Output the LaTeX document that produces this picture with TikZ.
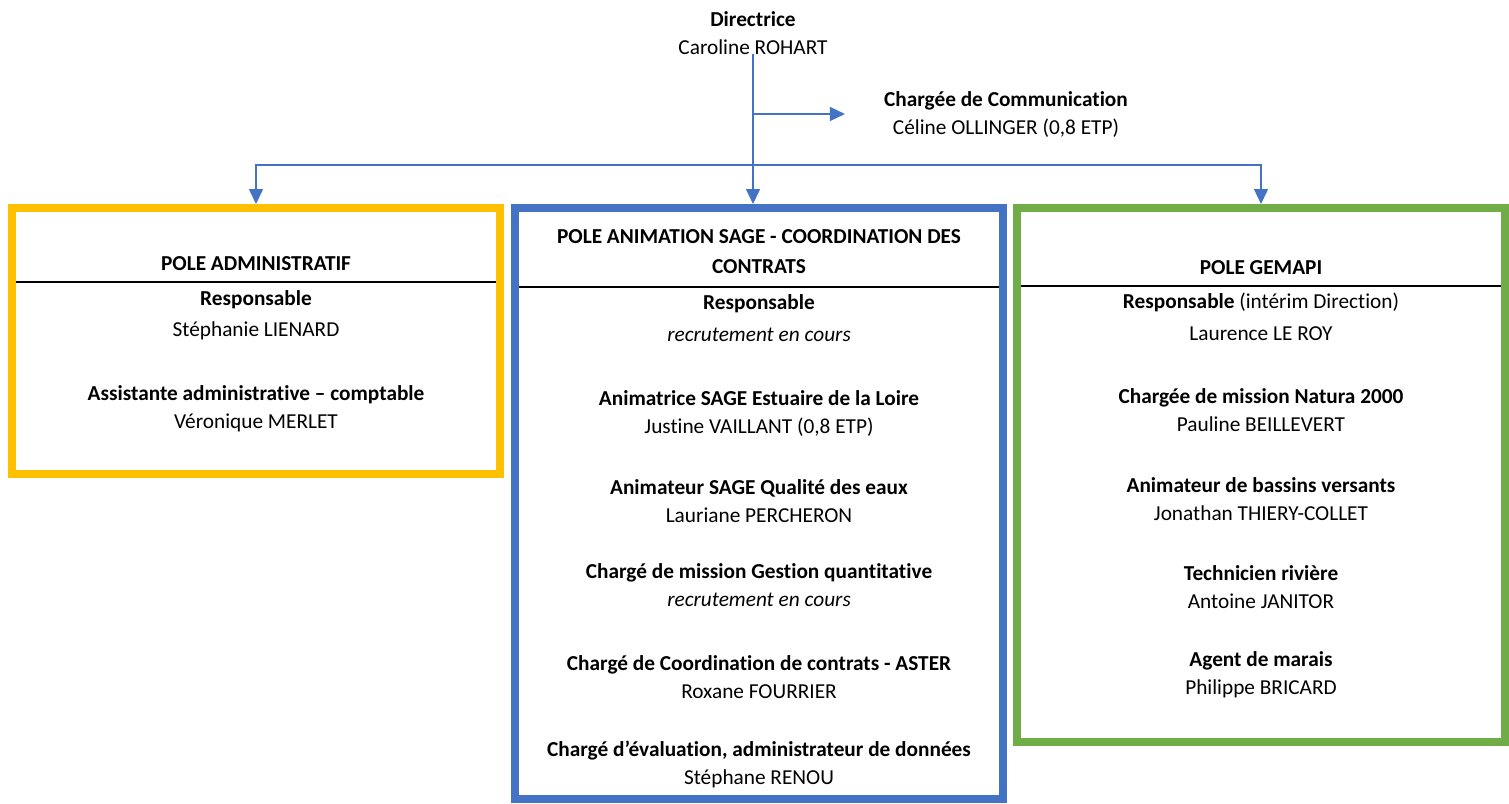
\documentclass[tikz,border=0pt]{standalone}
\usepackage{fontspec}
\setmainfont[RawFeature={-liga;-clig;-calt}]{Carlito}
\usepackage{xcolor}
\usepackage{tikz}
\usetikzlibrary{arrows.meta, positioning}
\definecolor{poleorange}{HTML}{FFC000}
\definecolor{poleblue}{HTML}{4472C4}
\definecolor{polegreen}{HTML}{70AD47}
\tikzstyle{pole} = [draw, line width=8pt, minimum width=488pt, anchor=center, fill=white]
\tikzstyle{arrow} = [poleblue, line width=1.5pt, -{Triangle[width=14pt,length=15pt]}]

\begin{document}
\begin{tikzpicture}[
    x=1pt, y=-1pt,
    every node/.style={font=\fontsize{21.3}{28}\selectfont, align=center, inner sep=0pt, anchor=base},
    rule/.style={black, line width=1.2pt}
]
\useasboundingbox (0,0) rectangle (1509,803);

% Poles
\node[pole, draw=poleorange, minimum height=266pt] (admin) at (256,341) {};
\node[pole, draw=poleblue, minimum height=591pt] (sage) at (759,503.5) {};
\node[pole, draw=polegreen, minimum height=534pt] (gemapi) at (1261,475) {};

\draw[rule] ([xshift=8pt]admin.west |- 0,282) -- ([xshift=-8pt]admin.east |- 0,282);
\draw[rule] ([xshift=8pt]sage.west |- 0,287) -- ([xshift=-8pt]sage.east |- 0,287);
\draw[rule] ([xshift=8pt]gemapi.west |- 0,286) -- ([xshift=-8pt]gemapi.east |- 0,286);

% Direction (base = last line)
\node (dir) at (753,54) {\textbf{Directrice}\\Caroline ROHART};
\node (comm) at (1006,134) {\textbf{Chargée de Communication}\\Céline OLLINGER (0,8 ETP)};

% Pole administratif
\node (admintitle) at (256,270) {\textbf{POLE ADMINISTRATIF}};
\node (adminresp) at (256,336) {\textbf{Responsable}\\[3pt]Stéphanie LIENARD};
\node (adminassist) at (256,428) {\textbf{Assistante administrative – comptable}\\Véronique MERLET};

% Pole animation SAGE
\node (sagetitle) at (759,273) {\textbf{POLE ANIMATION SAGE - COORDINATION DES}\\[2pt]\textbf{CONTRATS}};
\node (sageresp) at (759,341) {\textbf{Responsable}\\[4pt]\textit{recrutement en cours}};
\node (sageanim) at (759,433) {\textbf{Animatrice SAGE Estuaire de la Loire}\\Justine VAILLANT (0,8 ETP)};
\node (sagequal) at (759,522) {\textbf{Animateur SAGE Qualité des eaux}\\Lauriane PERCHERON};
\node (sagequant) at (759,606) {\textbf{Chargé de mission Gestion quantitative}\\\textit{recrutement en cours}};
\node (sageaster) at (759,698) {\textbf{Chargé de Coordination de contrats - ASTER}\\Roxane FOURRIER};
\node (sageeval) at (759,784) {\textbf{Chargé d’évaluation, administrateur de données}\\Stéphane RENOU};

% Pole GEMAPI
\node (gemapititle) at (1261,274) {\textbf{POLE GEMAPI}};
\node (gemapiresp) at (1261,340) {\textbf{Responsable} (intérim Direction)\\[4pt]Laurence LE ROY};
\node (gemapinatura) at (1261,431) {\textbf{Chargée de mission Natura 2000}\\Pauline BEILLEVERT};
\node (gemapibv) at (1261,520) {\textbf{Animateur de bassins versants}\\Jonathan THIERY-COLLET};
\node (gemapiriv) at (1261,608) {\textbf{Technicien rivière}\\Antoine JANITOR};
\node (gemapimarais) at (1261,694) {\textbf{Agent de marais}\\Philippe BRICARD};

% Arrows
\coordinate (split) at (dir.south |- 0,114);
\coordinate (bus) at (dir.south |- 0,165);
\draw[arrow] (dir.south) -- (dir.south |- sage.north);
\draw[arrow] (split) -- ([xshift=-39pt]comm.west |- split);
\draw[arrow] (bus) -| (admin.north);
\draw[arrow] (bus) -| (gemapi.north);

\end{tikzpicture}
\end{document}
